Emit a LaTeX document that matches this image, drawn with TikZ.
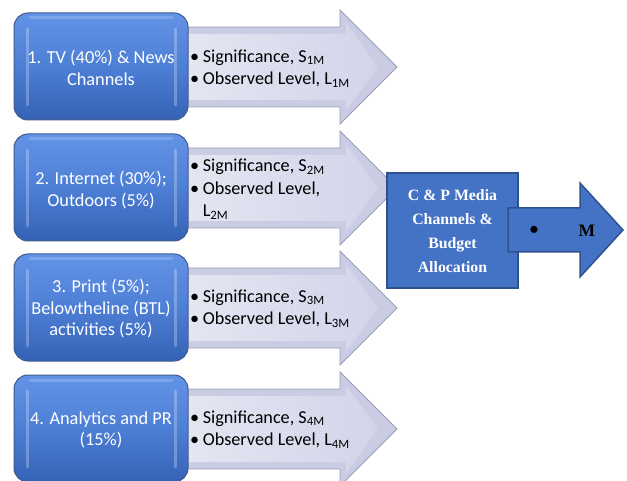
\documentclass[tikz,border=0pt]{standalone}
\usepackage{fontspec}
\setmainfont{Carlito}
\newfontfamily\serifb{Liberation Serif}
\definecolor{boxblue}{HTML}{4472C4}
\definecolor{boxedge}{HTML}{2F528F}
\definecolor{boxtop}{HTML}{6393E6}
\definecolor{boxmid}{HTML}{4D7FD6}
\definecolor{boxbot}{HTML}{3562B4}
\definecolor{arrowedge}{HTML}{9A9DB4}
\definecolor{arrowfill}{HTML}{C9CCE2}
\definecolor{facelight}{HTML}{E4E6F2}
\definecolor{facedark}{HTML}{D2D5E9}
\begin{document}
\begin{tikzpicture}[x=1pt,y=-1pt,
  chanbox/.style={rounded corners=14pt, top color=boxtop, bottom color=boxbot, middle color=boxmid, draw=boxedge!80!gray, line width=1pt},
  chantext/.style={text=white, align=center, font=\fontsize{18.3}{21.5}\selectfont},
  arrowbody/.style={fill=arrowfill, draw=arrowedge, line width=0.8pt},
  arrowface/.style={left color=facelight, right color=facedark},
  itemtext/.style={anchor=west, inner sep=0pt, font=\fontsize{18.2}{22.5}\selectfont},
  mbox/.style={fill=boxblue, draw=boxedge, line width=1.5pt},
  mtext/.style={text=white, align=center, font=\serifb\bfseries\fontsize{15.8}{24}\selectfont}]
\useasboundingbox (0,0) rectangle (627,481);
\fill[white] (0,0) rectangle (627,481);

\foreach \c [count=\i] in {67,188,308,429} {
  \path[arrowbody] (180,\c-40) -- (340,\c-40) -- (340,\c-57) -- (397,\c) -- (340,\c+57) -- (340,\c+40) -- (180,\c+40) -- cycle;
  \path[arrowface] (180,\c-33) -- (346,\c-33) -- (346,\c-44) -- (378,\c) -- (346,\c+44) -- (346,\c+33) -- (180,\c+33) -- cycle;
  \path[chanbox] (14,\c-54) rectangle (188,\c+53);
  \draw[white, opacity=0.25, line width=3pt, line cap=round] (27,\c-38) -- (27,\c+38);
  \draw[white, opacity=0.25, line width=3pt, line cap=round] (175,\c-38) -- (175,\c+38);
  \draw[white, opacity=0.18, line width=3pt, line cap=round] (30,\c-49) -- (172,\c-49);
}

\node[chantext] (b1) at (101,68) {1. TV (40\%) \& News\\Channels};
\node[chantext] (b2) at (101,190) {2. Internet (30\%);\\Outdoors (5\%)};
\node[chantext] (b3) at (101,309) {3. Print (5\%);\\Belowtheline (BTL)\\activities (5\%)};
\node[chantext] (b4) at (101,430) {4. Analytics and PR\\(15\%)};

\node[itemtext] (t1) at (190,69) {\begin{tabular}{@{}l@{\hspace{3.5pt}}l@{}}•&Significance, S\textsubscript{1M}\\•&Observed Level, L\textsubscript{1M}\end{tabular}};
\node[itemtext] (t2) at (190,190) {\begin{tabular}{@{}l@{\hspace{3.5pt}}l@{}}•&Significance, S\textsubscript{2M}\\•&Observed Level,\\&L\textsubscript{2M}\end{tabular}};
\node[itemtext] (t3) at (190,309) {\begin{tabular}{@{}l@{\hspace{3.5pt}}l@{}}•&Significance, S\textsubscript{3M}\\•&Observed Level, L\textsubscript{3M}\end{tabular}};
\node[itemtext] (t4) at (190,430) {\begin{tabular}{@{}l@{\hspace{3.5pt}}l@{}}•&Significance, S\textsubscript{4M}\\•&Observed Level, L\textsubscript{4M}\end{tabular}};

\path[mbox] (387,173) rectangle (518,288);
\node[mtext] (mb) at (452.5,231) {C \& P Media\\Channels \&\\Budget\\Allocation};
\path[mbox] (508,208) -- (580,208) -- (580,183) -- (623,230) -- (580,277) -- (580,252) -- (508,252) -- cycle;
\node[font=\fontsize{20}{20}\selectfont] (dot) at (534,231) {•};
\node[font=\serifb\bfseries\fontsize{17.5}{18}\selectfont] (m) at (587,231) {M};
\end{tikzpicture}
\end{document}
